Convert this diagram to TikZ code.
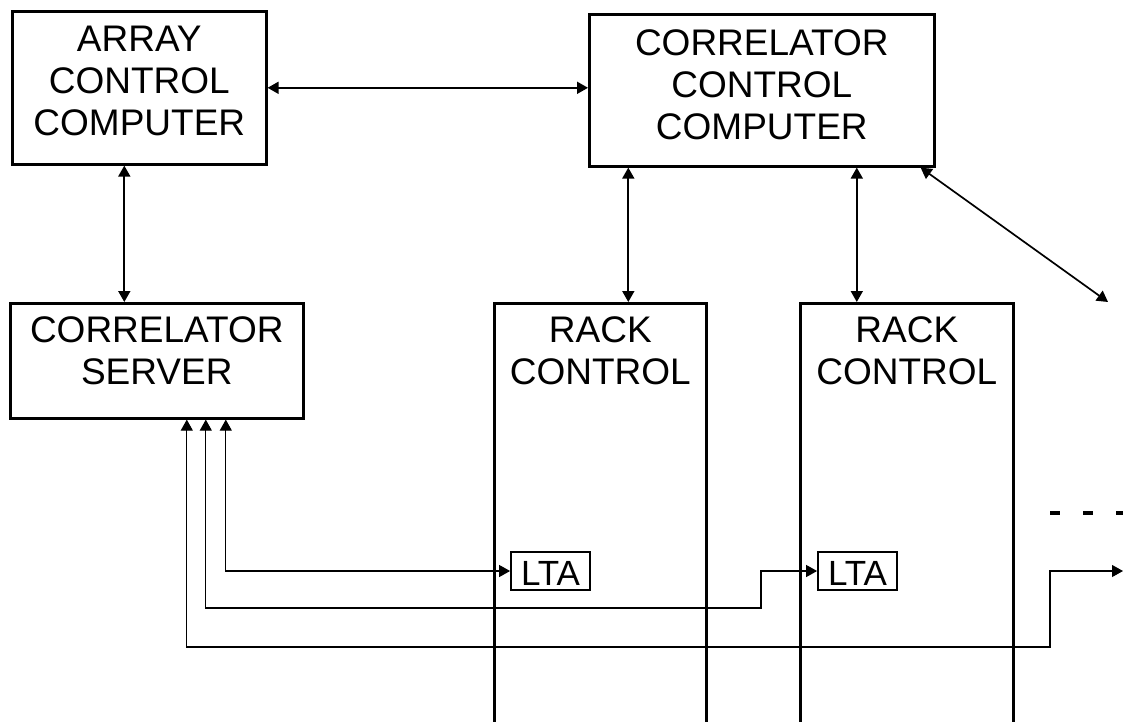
\documentclass[tikz,border=0pt]{standalone}
\usepackage{fontspec}
\setmainfont{Liberation Sans}
\usetikzlibrary{arrows.meta, positioning, calc}

\begin{document}
\begin{tikzpicture}[
  x=1pt, y=-1pt,
  >={Triangle[length=11pt,width=12pt]},
  box/.style={rectangle, draw, line width=2.6pt, anchor=north west, inner sep=0pt},
  boxtext/.style={align=center, inner sep=0pt, font=\fontsize{37}{42}\selectfont},
  lta/.style={rectangle, draw, line width=1.8pt, minimum width=79pt, minimum height=38pt, inner sep=0pt, text height=29pt, font=\fontsize{35}{38}\selectfont},
  dbl/.style={<->, line width=1.7pt},
  feed/.style={<->, line width=1.1pt}
]
\useasboundingbox (0,0) rectangle (1123,721);
\clip (0,0) rectangle (1123,721);

% computers
\node (acc) [box, minimum width=254pt, minimum height=153pt] at (11,10) {};
\node (acctext) [boxtext, below=16pt of acc.north] {ARRAY\\CONTROL\\COMPUTER};
\node (ccc) [box, minimum width=345pt, minimum height=152pt] at (588,13) {};
\node (ccctext) [boxtext, below=16pt of ccc.north] {CORRELATOR\\CONTROL\\COMPUTER};

% server and racks (racks run off the page)
\node (cs) [box, minimum width=293pt, minimum height=115pt] at (9,302) {};
\node (cstext) [boxtext, below=14pt of cs.north] {CORRELATOR\\SERVER};
\node (rack1) [box, minimum width=212pt, minimum height=500pt] at (493,302) {};
\node (rack1text) [boxtext, below=14pt of rack1.north] {RACK\\CONTROL};
\node (rack2) [box, minimum width=213pt, minimum height=500pt] at (799,302) {};
\node (rack2text) [boxtext, below=14pt of rack2.north] {RACK\\CONTROL};

\node (lta1) [lta] at (550.5,571) {LTA};
\node (lta2) [lta] at (857.5,571) {LTA};

\coordinate (nextrack) at (1108,302);
\coordinate (step2) at (761,608);
\coordinate (step3) at (1050,647);
\coordinate (nextlta) at (1123,571);

\draw [dbl] (acc.east) -- (acc.east -| ccc.west);
\draw [dbl] ([xshift=-15pt]acc.south) -- ([xshift=-15pt]acc.south |- cs.north);
\draw [dbl] ([xshift=28pt]rack1.north) -- ([xshift=28pt]rack1.north |- ccc.south);
\draw [dbl] ([xshift=-50pt]rack2.north) -- ([xshift=-50pt]rack2.north |- ccc.south);
\draw [dbl] ([xshift=-15pt]ccc.south east) -- (nextrack);

\draw [feed] ([xshift=69pt]cs.south) |- (lta1.west);
\draw [feed] ([xshift=49pt]cs.south) |- (step2) |- (lta2.west);
\draw [feed] ([xshift=30pt]cs.south) |- (step3) |- (nextlta);

\draw [line width=4pt, dash pattern=on 10pt off 23pt] (1050,513) -- (1123,513);

\end{tikzpicture}
\end{document}
